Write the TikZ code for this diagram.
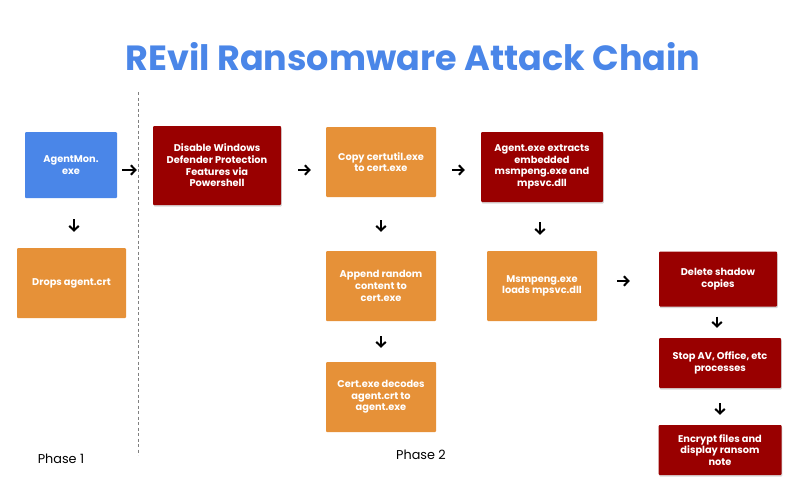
\documentclass[tikz,border=0pt]{standalone}
\usepackage{fontspec}
\setmainfont{Poppins}
\usetikzlibrary{arrows.meta,shadows,positioning}

\definecolor{agentblue}{HTML}{4A86E8}
\definecolor{stageorange}{HTML}{E69138}
\definecolor{stagered}{HTML}{990000}
\definecolor{titleblue}{HTML}{4A86E8}

\begin{document}
\begin{tikzpicture}[
        x=1pt,
        y=-1pt,
        stage box/.style={
            rectangle,rounded corners=1pt,text=white,align=center,inner sep=2pt,
            font=\bfseries\fontsize{9.8}{11.7}\selectfont
        },
        blue box/.style={stage box,fill=agentblue},
        orange box/.style={stage box,fill=stageorange},
        red box/.style={
            stage box,fill=stagered,
            drop shadow={opacity=0.3,shadow xshift=0.8pt,shadow yshift=-1.6pt}
        },
        flow arrow/.style={line width=2pt,-{Straight Barb[length=4.5pt,width=9.5pt]}},
        phase label/.style={font=\fontsize{12.8}{15}\selectfont}
    ]
        \useasboundingbox (0,0) rectangle (800,490);

        % Title.
        \node[font=\bfseries\fontsize{35}{42}\selectfont,text=titleblue]
            (title) at (413,57) {REvil Ransomware Attack Chain};

        % Phase 1.
        \node[blue box,minimum width=92pt,minimum height=66pt]
            (agentmon) at (71,165) {AgentMon.\\exe};
        \node[orange box,minimum width=109pt,minimum height=70pt]
            (drops) at (71.5,283) {Drops agent.crt};

        % The line between the phases.
        \coordinate (splittop) at (138,92);
        \coordinate (splitbottom) at (138,455);
        \draw[gray,line width=0.9pt,dash pattern=on 3pt off 2.5pt]
            (splittop) -- (splitbottom);

        % Phase 2.
        \node[red box,minimum width=128pt,minimum height=79pt]
            (disable) at (217,165.5)
            {Disable Windows\\Defender Protection\\Features via\\Powershell};
        \node[orange box,minimum width=110pt,minimum height=70pt]
            (copycert) at (381,162) {Copy certutil.exe\\to cert.exe};
        \node[orange box,minimum width=110pt,minimum height=70pt]
            (append) at (381,286) {Append random\\content to\\cert.exe};
        \node[orange box,minimum width=110pt,minimum height=70pt]
            (decode) at (381,397) {Cert.exe decodes\\agent.crt to\\agent.exe};
        \node[red box,minimum width=122pt,minimum height=70pt]
            (extracts) at (542,167)
            {Agent.exe extracts\\embedded\\msmpeng.exe and\\mpsvc.dll};
        \node[orange box,minimum width=110pt,minimum height=70pt]
            (msmpeng) at (542,286) {Msmpeng.exe\\loads mpsvc.dll};
        \node[red box,minimum width=118pt,minimum height=55pt]
            (shadowcopies) at (718,279) {Delete shadow\\copies};
        \node[red box,minimum width=122pt,minimum height=50pt]
            (stopav) at (720,363) {Stop AV, Office, etc\\processes};
        \node[red box,minimum width=123pt,minimum height=50pt]
            (encrypt) at (720,450) {Encrypt files and\\display ransom\\note};

        % The short arrows between the steps.
        \draw[flow arrow,shorten <=5pt,shorten >=16pt]
            ([yshift=-5pt]agentmon.east) -- ([yshift=-5pt]agentmon.east -| disable.west);
        \draw[flow arrow,shorten <=17pt,shorten >=15pt]
            ([yshift=-4.5pt]disable.east) -- ([yshift=-4.5pt]disable.east -| copycert.west);
        \draw[flow arrow,shorten <=16pt,shorten >=16pt]
            ([yshift=-8pt]copycert.east) -- ([yshift=-8pt]copycert.east -| extracts.west);
        \draw[flow arrow,shorten <=20pt,shorten >=29pt]
            ([yshift=5pt]msmpeng.east) -- ([yshift=5pt]msmpeng.east -| shadowcopies.west);
        \draw[flow arrow,shorten <=21pt,shorten >=16pt]
            ([xshift=3pt]agentmon.south) -- ([xshift=3pt]agentmon.south |- drops.north);
        \draw[flow arrow,shorten <=23pt,shorten >=19pt]
            (copycert.south) -- (append.north);
        \draw[flow arrow,shorten <=20pt,shorten >=16pt]
            ([xshift=-2pt]extracts.south) -- ([xshift=-2pt]extracts.south |- msmpeng.north);
        \draw[flow arrow,shorten <=15pt,shorten >=14pt]
            (append.south) -- (decode.north);
        \draw[flow arrow,shorten <=10pt,shorten >=10pt]
            ([xshift=-1pt]shadowcopies.south) -- ([xshift=-1pt]shadowcopies.south |- stopav.north);
        \draw[flow arrow,shorten <=15pt,shorten >=10pt]
            (stopav.south) -- (encrypt.north);

        % Phase names.
        \node[phase label] (phaseone) at (61,459) {Phase 1};
        \node[phase label] (phasetwo) at (421,455) {Phase 2};
    \end{tikzpicture}
\end{document}
